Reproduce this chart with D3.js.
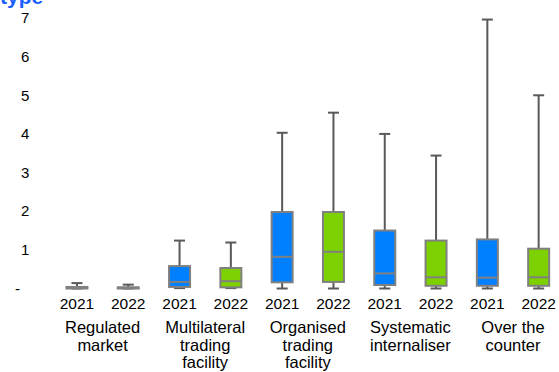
<!DOCTYPE html>
<html>
<head>
<meta charset="utf-8">
<script src="https://cdn.jsdelivr.net/npm/d3@7"></script>
<style>
  body { margin: 0; background: #fff; }
  text { font-family: "Liberation Sans", Arial, sans-serif; }
</style>
</head>
<body>
<div id="chart"></div>
<script>
/* Values */
var categories = [["Regulated", "market"], ["Multilateral", "trading", "facility"],
                  ["Organised", "trading", "facility"], ["Systematic", "internaliser"],
                  ["Over the", "counter"]];
var years = ["2021", "2022"];
var yTicks = [0, 1, 2, 3, 4, 5, 6, 7];

// one entry per category, [2021, 2022]
var whiskerLow  = [[0, 0], [0.01, 0.01], [0, 0], [0, 0], [0, 0]];
var q1          = [[0.0, 0.0], [0.04, 0.03], [0.16, 0.17], [0.09, 0.07], [0.07, 0.07]];
var median      = [[0.02, 0.02], [0.17, 0.19], [0.82, 0.95], [0.39, 0.29], [0.28, 0.29]];
var q3          = [[0.04, 0.03], [0.58, 0.53], [1.98, 1.98], [1.5, 1.24], [1.27, 1.03]];
var whiskerHigh = [[0.14, 0.1], [1.24, 1.19], [4.03, 4.55], [4.0, 3.44], [6.96, 5.0]];

var width = 559, height = 372;
var colors = {"2021": "#0080ff", "2022": "#7dd100"};

var svg = d3.select("#chart").append("svg")
    .attr("width", width).attr("height", height);

var y = d3.scaleLinear().domain([0, 7]).range([288.5, 18]);

var x0 = d3.scaleBand()
    .domain(d3.range(categories.length))
    .range([51.3, 564.3]);

var x1 = d3.scaleBand()
    .domain(years)
    .range([0, x0.bandwidth()]);

var boxW = 21, capW = 11;

/* title, cut off at the top like the original */
svg.append("text")
    .attr("x", 0)
    .attr("y", 4)
    .attr("fill", "#1a5eff")
    .attr("font-weight", "bold")
    .attr("font-size", "21px")
    .text("type");

/* y axis labels */
svg.append("g").selectAll("text")
  .data(yTicks)
  .enter().append("text")
    .attr("x", function(d) { return d === 0 ? 15 : 21; })
    .attr("y", function(d) { return y(d); })
    .attr("dy", "0.35em")
    .attr("font-size", "15px")
    .attr("fill", "#000")
    .text(function(d) { return d === 0 ? "-" : d; });

/* flatten to one record per box */
var boxes = [];
categories.forEach(function(c, i) {
  years.forEach(function(yr, j) {
    boxes.push({cat: i, year: yr, lo: whiskerLow[i][j], q1: q1[i][j], med: median[i][j],
                q3: q3[i][j], hi: whiskerHigh[i][j]});
  });
});

function cx(d) { return x0(d.cat) + x1(d.year) + x1.bandwidth() / 2; }

var g = svg.append("g").selectAll("g")
  .data(boxes)
  .enter().append("g");

// whisker line
g.append("line")
    .attr("x1", cx).attr("x2", cx)
    .attr("y1", function(d) { return y(d.lo); })
    .attr("y2", function(d) { return y(d.hi); })
    .attr("stroke", "#595959")
    .attr("stroke-width", 2);

// caps
["lo", "hi"].forEach(function(k) {
  g.append("line")
    .attr("x1", function(d) { return cx(d) - capW / 2; })
    .attr("x2", function(d) { return cx(d) + capW / 2; })
    .attr("y1", function(d) { return y(d[k]); })
    .attr("y2", function(d) { return y(d[k]); })
    .attr("stroke", "#595959")
    .attr("stroke-width", 2);
});

// box
g.append("rect")
    .attr("x", function(d) { return cx(d) - boxW / 2; })
    .attr("y", function(d) { return y(d.q3); })
    .attr("width", boxW)
    .attr("height", function(d) { return Math.max(0, y(d.q1) - y(d.q3)); })
    .attr("fill", function(d) { return colors[d.year]; })
    .attr("stroke", "#808080")
    .attr("stroke-width", 2);

// median
g.append("line")
    .attr("x1", function(d) { return cx(d) - boxW / 2; })
    .attr("x2", function(d) { return cx(d) + boxW / 2; })
    .attr("y1", function(d) { return y(d.med); })
    .attr("y2", function(d) { return y(d.med); })
    .attr("stroke", "#808080")
    .attr("stroke-width", 2);

/* year labels */
svg.append("g").selectAll("text")
  .data(boxes)
  .enter().append("text")
    .attr("x", cx)
    .attr("y", 309)
    .attr("text-anchor", "middle")
    .attr("font-size", "15.5px")
    .attr("fill", "#000")
    .text(function(d) { return d.year; });

/* category labels */
var cl = svg.append("g").selectAll("text")
  .data(categories)
  .enter().append("text")
    .attr("x", function(d, i) { return x0(i) + x0.bandwidth() / 2; })
    .attr("y", 333)
    .attr("text-anchor", "middle")
    .attr("font-size", "16.5px")
    .attr("fill", "#000");

cl.selectAll("tspan")
  .data(function(d) { return d; })
  .enter().append("tspan")
    .attr("x", function() { return d3.select(this.parentNode).attr("x"); })
    .attr("dy", function(d, i) { return i === 0 ? 0 : 17.5; })
    .text(function(d) { return d; });
</script>
</body>
</html>
